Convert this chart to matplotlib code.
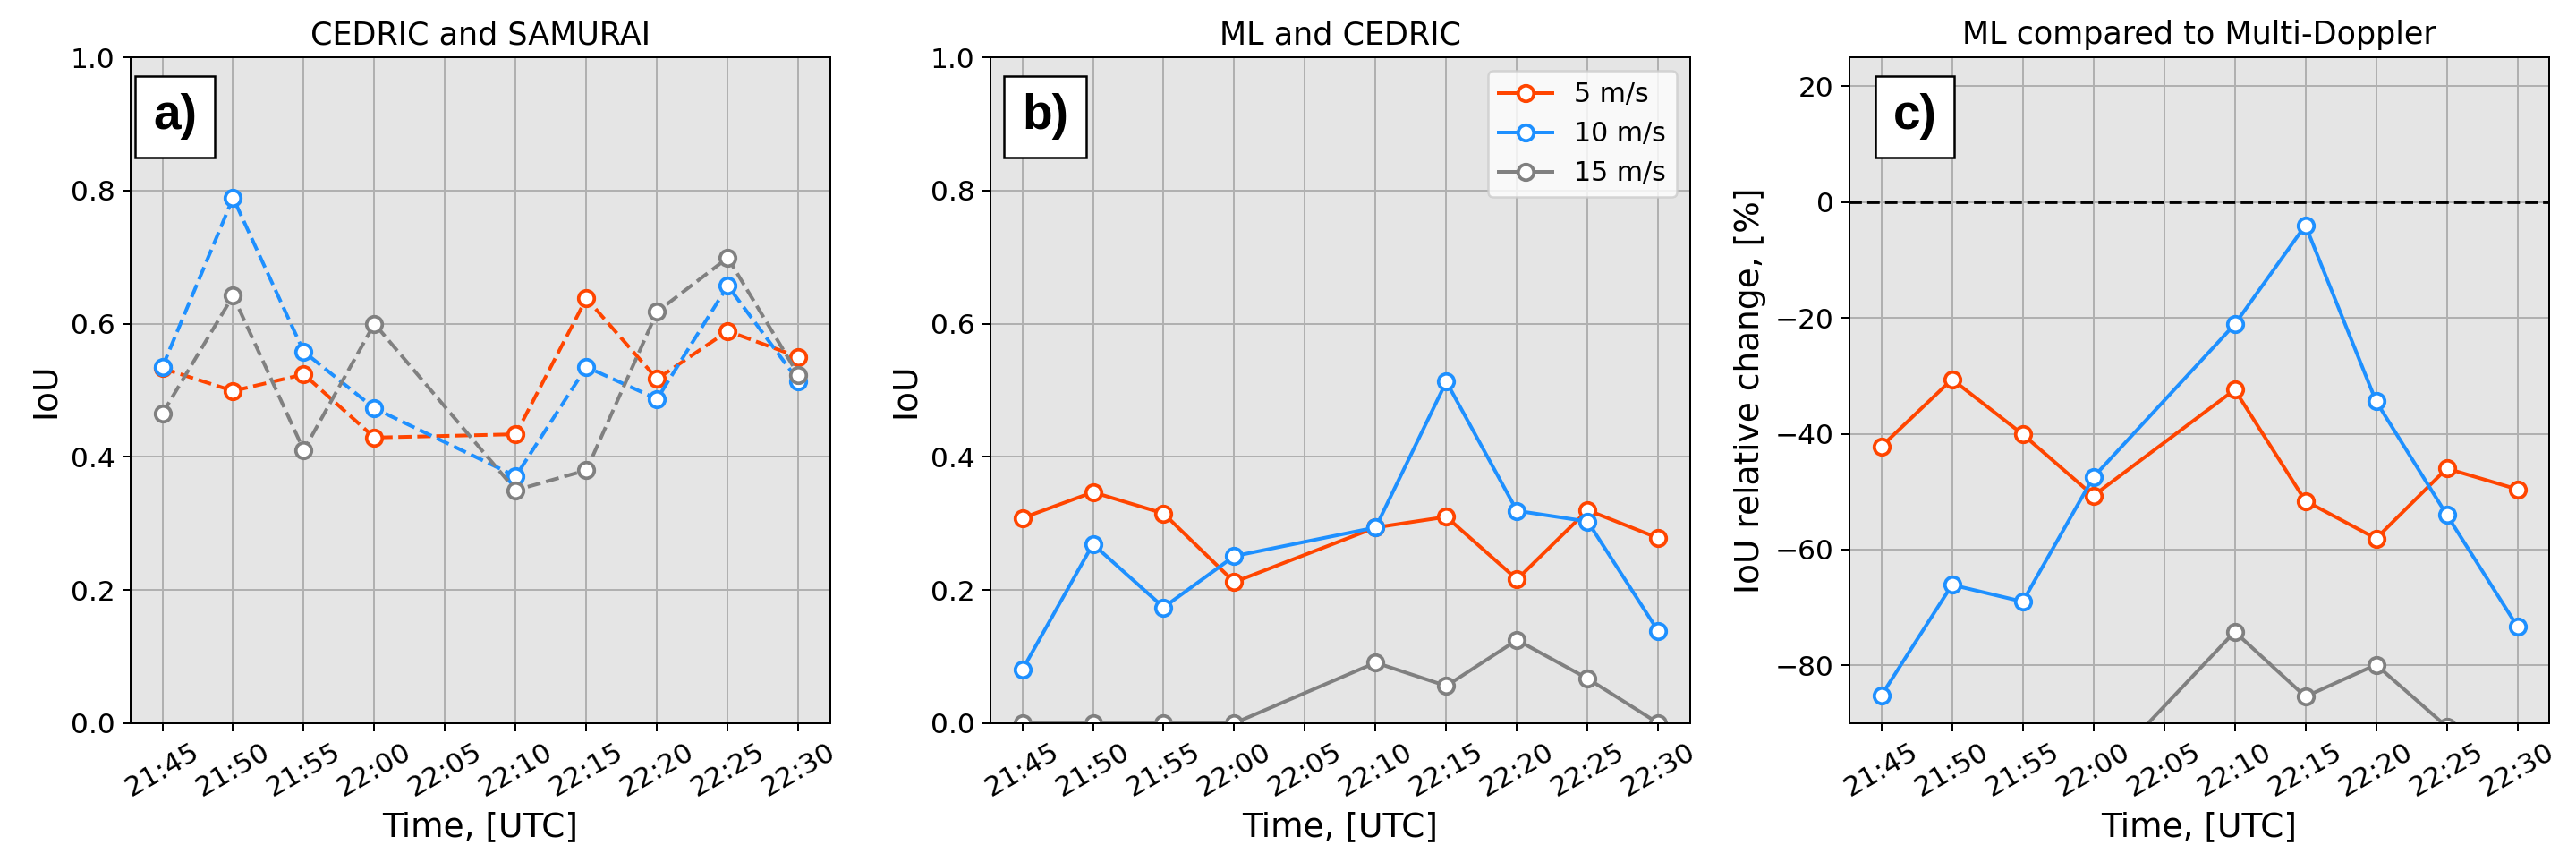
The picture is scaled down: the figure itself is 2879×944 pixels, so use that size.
import matplotlib
matplotlib.use("Agg")
import matplotlib.pyplot as plt
import matplotlib.dates as mdates
import numpy as np
from datetime import datetime

# time stamps (no 22:05 sample)
times = ["21:45", "21:50", "21:55", "22:00", "22:10", "22:15", "22:20", "22:25", "22:30"]
t = [datetime.strptime("2021-06-01 " + s, "%Y-%m-%d %H:%M") for s in times]

labels = ["5 m/s", "10 m/s", "15 m/s"]
colors = ["orangered", "dodgerblue", "gray"]

# a) CEDRIC and SAMURAI
iou_a_5 = [0.533, 0.499, 0.524, 0.429, 0.434, 0.638, 0.517, 0.589, 0.550]
iou_a_10 = [0.535, 0.789, 0.558, 0.473, 0.371, 0.535, 0.487, 0.657, 0.514]
iou_a_15 = [0.465, 0.642, 0.410, 0.600, 0.350, 0.380, 0.618, 0.699, 0.523]

# b) ML and CEDRIC
iou_b_5 = [0.308, 0.347, 0.315, 0.212, 0.294, 0.310, 0.216, 0.320, 0.278]
iou_b_10 = [0.080, 0.269, 0.174, 0.251, 0.294, 0.513, 0.319, 0.303, 0.138]
iou_b_15 = [0.0, 0.0, 0.0, 0.0, 0.091, 0.056, 0.125, 0.067, 0.0]

# c) relative change [%]
rel_5 = [-42.2, -30.6, -40.1, -50.7, -32.4, -51.6, -58.1, -46.0, -49.6]
rel_10 = [-85.2, -66.1, -69.0, -47.5, -21.1, -4.0, -34.4, -54.0, -73.3]
rel_15 = [-100, -100, -100, -100, -74.2, -85.4, -79.9, -90.6, -100]

plt.rcParams['font.size'] = 12

fig = plt.figure(figsize=(2879/180, 944/180), dpi=180)
lefts = [0.0507, 0.3845, 0.718]
axs = [fig.add_axes([l, 0.1441, 0.2716, 0.788]) for l in lefts]

series = [(iou_a_5, iou_a_10, iou_a_15), (iou_b_5, iou_b_10, iou_b_15), (rel_5, rel_10, rel_15)]
styles = ['--', '-', '-']
titles = ["CEDRIC and SAMURAI", "ML and CEDRIC", "ML compared to Multi-Doppler"]
ylabels = ["IoU", "IoU", "IoU relative change, [%]"]
tags = ["a)", "b)", "c)"]
tagx = [0.0633, 0.078, 0.093]

for i, ax in enumerate(axs):
    ax.set_facecolor('#e5e5e5')
    ax.grid(True, color='#b0b0b0', lw=0.8)
    ax.set_axisbelow(True)
    if i == 2:
        ax.axhline(0, color='k', ls='--', lw=1.5)
    for vals, c, lab in zip(series[i], colors, labels):
        ax.plot(t, vals, styles[i], color=c, lw=1.6, marker='o', ms=7,
                mfc='white', mec=c, mew=1.5, label=lab)
    ax.set_title(titles[i], fontsize=14)
    ax.set_ylabel(ylabels[i], fontsize=15)
    ax.set_xlabel("Time, [UTC]", fontsize=15)
    ax.xaxis.set_major_locator(mdates.MinuteLocator(byminute=range(0, 60, 5)))
    ax.xaxis.set_major_formatter(mdates.DateFormatter('%H:%M'))
    ax.tick_params(axis='both', labelsize=12.5)
    ax.tick_params(axis='x', labelrotation=30)
    ax.text(tagx[i], 0.911, tags[i], transform=ax.transAxes, ha='center', va='center',
            fontsize=22, fontweight='bold', family='Liberation Sans',
            bbox=dict(boxstyle='square,pad=0.36', fc='white', ec='k'))
    if i < 2:
        ax.set_ylim(0, 1)
    else:
        ax.set_ylim(-90, 25)

axs[1].legend(loc='upper right')

plt.savefig('out.png', dpi=180)
